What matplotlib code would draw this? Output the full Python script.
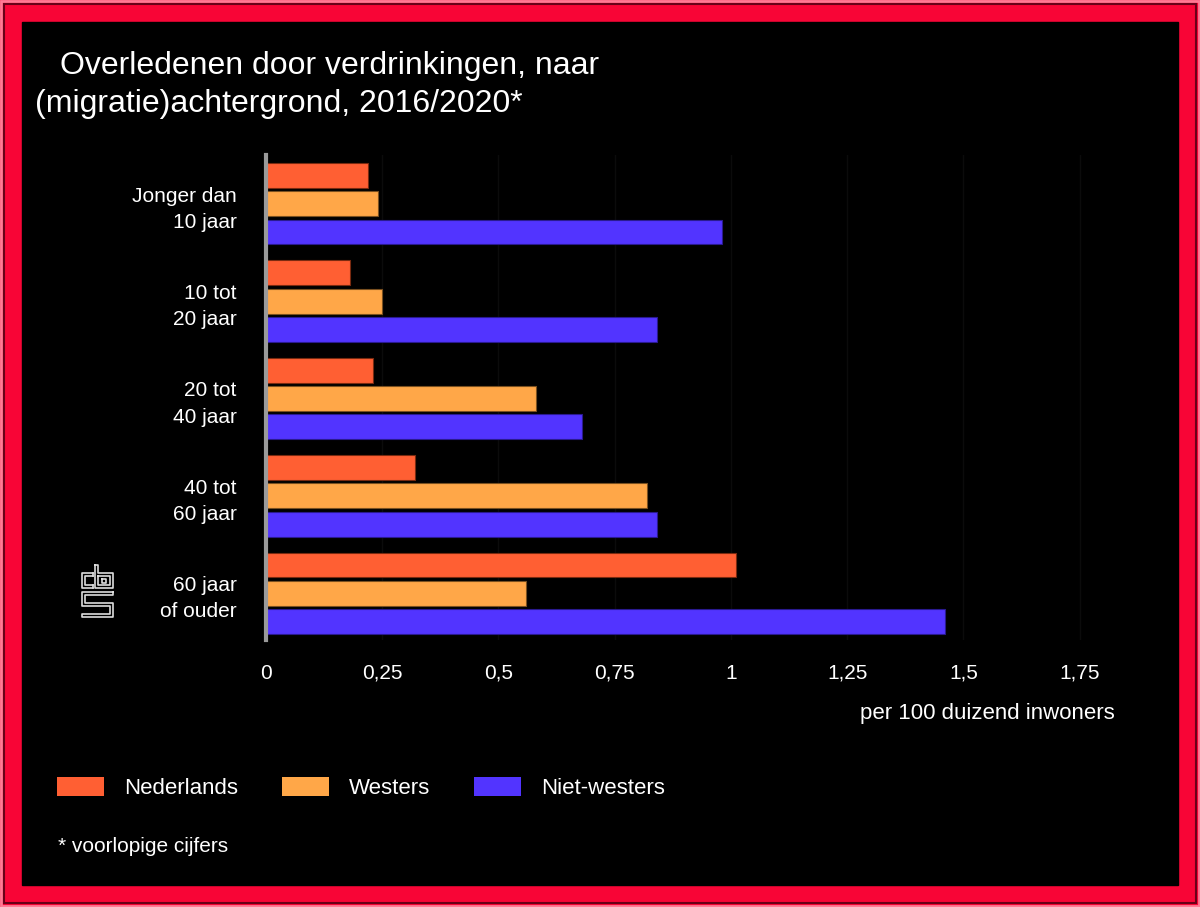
import matplotlib
matplotlib.use('Agg')
import matplotlib.pyplot as plt
import matplotlib.patches as mpatches
import matplotlib.transforms as mtransforms
from matplotlib.lines import Line2D
import numpy as np

plt.rcParams['font.family'] = ['Liberation Sans', 'DejaVu Sans']

# data (per 100 duizend inwoners)
categories = ['Jonger dan\n10 jaar', '10 tot\n20 jaar', '20 tot\n40 jaar',
              '40 tot\n60 jaar', '60 jaar\nof ouder']
nederlands = [0.22, 0.18, 0.23, 0.32, 1.01]
westers = [0.24, 0.25, 0.58, 0.82, 0.56]
niet_westers = [0.98, 0.84, 0.68, 0.84, 1.46]
series_names = ['Nederlands', 'Westers', 'Niet-westers']
xticks = [0, 0.25, 0.5, 0.75, 1, 1.25, 1.5, 1.75]
xtick_labels = ['0', '0,25', '0,5', '0,75', '1', '1,25', '1,5', '1,75']

colors = ['#FF5F33', '#FFA748', '#5234FF']
edges = ['#7a2a10', '#7a5020', '#2a1a90']

W, H = 1200, 907
fig = plt.figure(figsize=(W / 100, H / 100), dpi=100)
fig.patch.set_facecolor('#F80536')

# frame: black panel inside red border with bevel lines
fig.patches.append(mpatches.Rectangle((22 / W, 1 - 885 / H), 1156 / W, 863 / H,
                                      transform=fig.transFigure, color='black', zorder=0))
fig.patches.append(mpatches.Rectangle((1 / W, 1 / H), 1 - 2 / W, 1 - 2 / H, transform=fig.transFigure,
                                      fill=False, ec='#FF7A95', lw=2, zorder=1))
fig.patches.append(mpatches.Rectangle((4 / W, 4 / H), 1 - 8 / W, 1 - 8 / H, transform=fig.transFigure,
                                      fill=False, ec='#6a0018', lw=1.5, zorder=1))

ax = fig.add_axes([266 / W, 1 - 640 / H, (1115 - 266) / W, (640 - 155) / H])
ax.set_zorder(3)
ax.set_facecolor('none')

y = np.arange(len(categories))
bh = 0.255
pitch = 0.29
for i, vals in enumerate([nederlands, westers, niet_westers]):
    ax.barh(y + (i - 1) * pitch, vals, height=bh, color=colors[i], edgecolor=edges[i],
            linewidth=0.8, label=series_names[i], zorder=3)

ax.set_xlim(0, 1.826)
ax.set_ylim(4.48, -0.50)
ax.set_yticks(y)
ax.set_yticklabels(categories, fontsize=15, color='white', linespacing=1.48)
# nudge the two-line labels up a little
shift = mtransforms.ScaledTranslation(0, 4 / 100, fig.dpi_scale_trans)
for lbl in ax.get_yticklabels():
    lbl.set_transform(lbl.get_transform() + shift)
ax.set_xticks(xticks)
ax.set_xticklabels(xtick_labels, fontsize=15, color='white')
ax.tick_params(axis='y', length=0, pad=21)
ax.tick_params(axis='x', length=0, pad=17)
ax.grid(axis='x', color='#0b0b0b', lw=1, zorder=0)
for s in ['top', 'right', 'bottom']:
    ax.spines[s].set_visible(False)
ax.spines['left'].set_color('#9a9a9a')
ax.spines['left'].set_linewidth(3)
ax.spines['left'].set_zorder(4)
ax.set_xlabel('per 100 duizend inwoners', fontsize=16, color='white', loc='right', labelpad=15)

# title
fig.text(60 / W, 1 - 74 / H, 'Overledenen door verdrinkingen, naar', fontsize=23, color='white',
         va='baseline')
fig.text(35 / W, 1 - 112 / H, '(migratie)achtergrond, 2016/2020*', fontsize=23, color='white',
         va='baseline')

# legend
handles = [mpatches.Patch(facecolor=c, edgecolor='none') for c in colors]
fig.legend(handles, series_names, loc='center left', bbox_to_anchor=(57 / W, 1 - 788 / H),
           ncol=3, frameon=False, fontsize=16, labelcolor='white', handlelength=2.1,
           handleheight=0.9, handletextpad=0.9, columnspacing=2.0, borderpad=0,
           borderaxespad=0)

fig.text(58 / W, 1 - 846 / H, '* voorlopige cijfers', fontsize=15, color='white', va='center')

# cbs logo, drawn in figure pixels
def px(xs, ys):
    return [v / W for v in xs], [1 - v / H for v in ys]

logo_paths = [
    # c
    ([93, 82, 82, 93], [573, 573, 588, 588]),
    ([93, 85, 85, 93], [576, 576, 585, 585]),
    ([93, 93], [573, 576]),
    ([93, 93], [585, 588]),
    # b
    ([95, 95, 113, 113, 98, 98, 95], [565, 588, 588, 573, 573, 565, 565]),
    ([98, 98, 110, 110, 98], [576, 585, 585, 576, 576]),
    ([102, 106, 106, 102, 102], [578.5, 578.5, 582.5, 582.5, 578.5]),
    # S
    ([113, 82, 82, 110, 110, 82, 82, 113, 113, 85, 85, 113, 113],
     [592, 592, 606, 606, 614, 614, 617, 617, 603, 603, 595, 595, 592]),
]
for xs, ys in logo_paths:
    fx, fy = px(xs, ys)
    fig.lines.append(Line2D(fx, fy, transform=fig.transFigure, color='#dddddd', lw=1.2))

fig.savefig('out.png', dpi=100, facecolor=fig.get_facecolor())
